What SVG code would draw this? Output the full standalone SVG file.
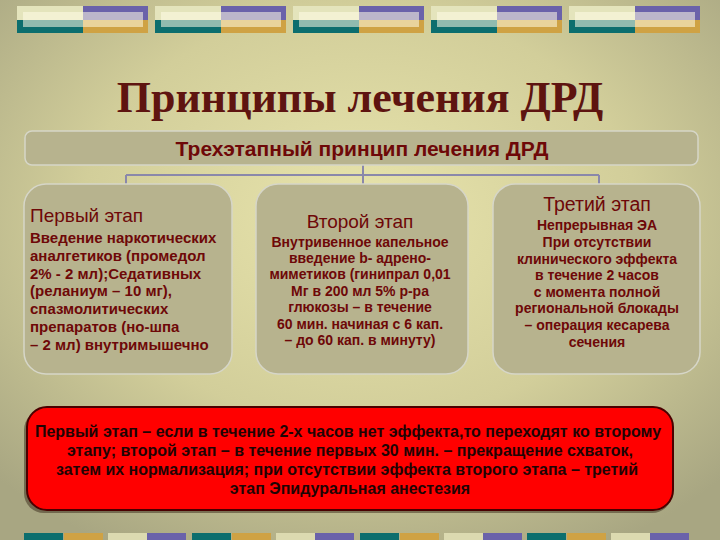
<svg xmlns="http://www.w3.org/2000/svg" xmlns:xlink="http://www.w3.org/1999/xlink" width="720" height="540" viewBox="0 0 720 540">
<defs>
<radialGradient id="bg" cx="50%" cy="40%" r="70%">
<stop offset="0" stop-color="#e8e4ac"/>
<stop offset="0.55" stop-color="#d2ce9a"/>
<stop offset="1" stop-color="#a8a682"/>
</radialGradient>
<g id="blk">
<rect x="0" y="0" width="66" height="14" fill="#e4e4bc"/>
<rect x="66" y="0" width="65" height="14" fill="#6a62aa"/>
<rect x="0" y="14" width="66" height="13" fill="#0c6e6e"/>
<rect x="66" y="14" width="65" height="13" fill="#cfa244"/>
<rect x="6" y="6" width="120" height="15" fill="#fffbe6" opacity="0.55"/>
</g>
<g id="sq">
<rect x="0" y="0" width="39" height="8" fill="#0c6e6e"/>
<rect x="40" y="0" width="39" height="8" fill="#cfa244"/>
<rect x="84" y="0" width="39" height="8" fill="#dcdab0"/>
<rect x="123" y="0" width="39" height="8" fill="#6a62aa"/>
</g>
</defs>
<style>
.box{fill:#b7b38e;stroke:#d6d6c8;stroke-width:1.5}
.hd{font-family:"Liberation Sans",Arial,sans-serif;fill:#6e0808}
.bd{font-family:"Liberation Sans",Arial,sans-serif;font-weight:bold;fill:#6e0808;font-size:14px}
.bd1{font-size:15px}
.rt{font-family:"Liberation Sans",Arial,sans-serif;font-weight:bold;fill:#1e0404;font-size:16px}
.con{stroke:#8a88aa;stroke-width:2;fill:none}
</style>
<rect x="0" y="0" width="720" height="540" fill="url(#bg)"/>
<g id="top-deco">
<use xlink:href="#blk" x="17" y="6"/>
<use xlink:href="#blk" x="155" y="6"/>
<use xlink:href="#blk" x="293" y="6"/>
<use xlink:href="#blk" x="431" y="6"/>
<use xlink:href="#blk" x="569" y="6"/>
</g>
<g id="bottom-deco">
<use xlink:href="#sq" x="24" y="533"/>
<use xlink:href="#sq" x="192" y="533"/>
<use xlink:href="#sq" x="360" y="533"/>
<use xlink:href="#sq" x="527" y="533"/>
</g>
<g id="title">
<text x="360" y="112" text-anchor="middle" font-family="'Liberation Serif','Times New Roman',serif" font-weight="bold" font-size="44" fill="#5e1410">Принципы лечения ДРД</text>
</g>
<g id="connectors">
<path class="con" d="M363 165 V175 M126 175 H599 M126 175 V184 M363 175 V184 M599 175 V184"/>
</g>
<g id="root">
<rect class="box" x="25" y="131" width="673" height="34" rx="7"/>
<text class="hd" x="362" y="156" text-anchor="middle" font-weight="bold" font-size="21">Трехэтапный принцип лечения ДРД</text>
</g>
<g id="stage1">
<rect class="box" x="24" y="184" width="208" height="190" rx="22"/>
<text class="hd" x="30" y="222" font-size="19">Первый этап</text>
<text class="bd bd1"><tspan x="30" y="243">Введение наркотических</tspan><tspan x="30" y="261">аналгетиков (промедол</tspan><tspan x="30" y="279">2% - 2 мл);Седативных</tspan><tspan x="30" y="296">(реланиум – 10 мг),</tspan><tspan x="30" y="314">спазмолитических</tspan><tspan x="30" y="332">препаратов (но-шпа</tspan><tspan x="30" y="350">– 2 мл) внутримышечно</tspan></text>
</g>
<g id="stage2">
<rect class="box" x="256" y="184" width="212" height="190" rx="22"/>
<text class="hd" x="360" y="228" text-anchor="middle" font-size="19">Второй этап</text>
<text class="bd" text-anchor="middle"><tspan x="360" y="247">Внутривенное капельное</tspan><tspan x="360" y="263">введение b- адрено-</tspan><tspan x="360" y="279">миметиков (гинипрал 0,01</tspan><tspan x="360" y="296">Мг в 200 мл 5% р-ра</tspan><tspan x="360" y="312">глюкозы – в течение</tspan><tspan x="360" y="329">60 мин. начиная с 6 кап.</tspan><tspan x="360" y="345">– до 60 кап. в минуту)</tspan></text>
</g>
<g id="stage3">
<rect class="box" x="493" y="184" width="207" height="190" rx="22"/>
<text class="hd" x="597" y="211" text-anchor="middle" font-size="19.5">Третий этап</text>
<text class="bd" text-anchor="middle"><tspan x="597" y="230">Непрерывная ЭА</tspan><tspan x="597" y="247">При отсутствии</tspan><tspan x="597" y="264">клинического эффекта</tspan><tspan x="597" y="280">в течение 2 часов</tspan><tspan x="597" y="297">с момента полной</tspan><tspan x="597" y="313">региональной блокады</tspan><tspan x="597" y="330">– операция кесарева</tspan><tspan x="597" y="347">сечения</tspan></text>
</g>
<g id="note">
<rect x="24" y="410" width="648" height="103" rx="20" fill="#3a2a1a" opacity="0.5"/>
<rect x="27" y="407" width="646" height="103" rx="20" fill="#ff0000" stroke="#4a0000" stroke-width="2"/>
<text class="rt" text-anchor="middle"><tspan x="348" y="437">Первый этап – если в течение 2-х часов нет эффекта,то переходят ко второму</tspan><tspan x="350" y="456">этапу; второй этап – в течение первых 30 мин. – прекращение схваток,</tspan><tspan x="347" y="475">затем их нормализация;  при отсутствии эффекта второго этапа – третий</tspan><tspan x="350" y="494">этап Эпидуральная анестезия</tspan></text>
</g>
</svg>
